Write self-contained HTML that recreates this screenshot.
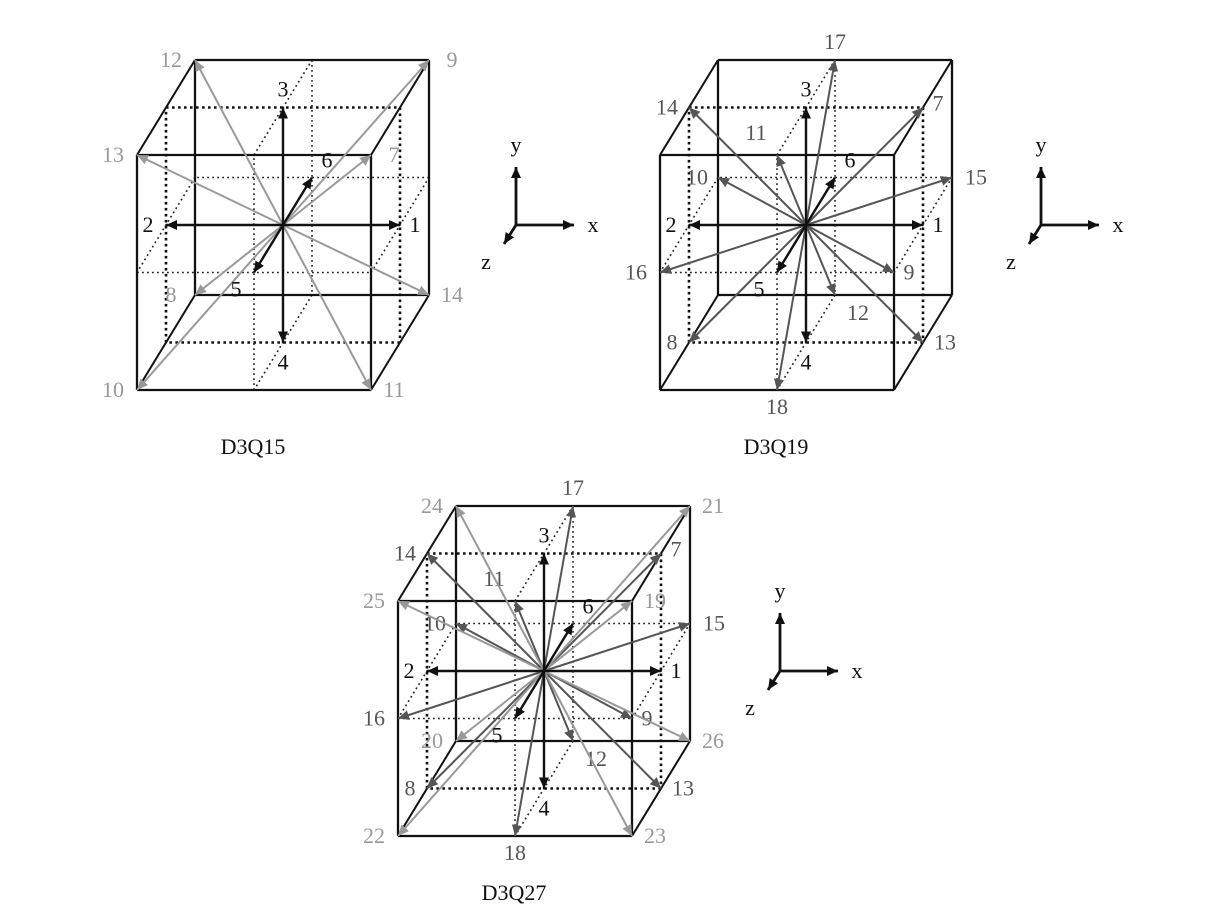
<!DOCTYPE html>
<html><head><meta charset="utf-8"><style>
html,body{margin:0;padding:0;background:#fff;}
svg{display:block;}
text{font-family:"Liberation Serif",serif;font-size:22px;}
</style></head><body>
<svg id="fig" width="1210" height="922" viewBox="0 0 1210 922" xmlns="http://www.w3.org/2000/svg">
<defs>
<marker id="mk-black" markerUnits="userSpaceOnUse" markerWidth="12" markerHeight="10" refX="11" refY="5" orient="auto"><path d="M0,0 L11,5 L0,10 z" fill="#111"/></marker>
<marker id="mk-dark" markerUnits="userSpaceOnUse" markerWidth="12" markerHeight="10" refX="11" refY="5" orient="auto"><path d="M0,0 L11,5 L0,10 z" fill="#555"/></marker>
<marker id="mk-light" markerUnits="userSpaceOnUse" markerWidth="12" markerHeight="10" refX="11" refY="5" orient="auto"><path d="M0,0 L11,5 L0,10 z" fill="#999"/></marker>
</defs>
</svg>
<script>
// lattice velocity directions (x, y, z), z toward viewer
const axisDirs = [[1,0,0],[-1,0,0],[0,1,0],[0,-1,0],[0,0,1],[0,0,-1]];
const axisIds = [1,2,3,4,5,6];
const q15CornerDirs = [[1,1,1],[-1,-1,-1],[1,1,-1],[-1,-1,1],[1,-1,1],[-1,1,-1],[-1,1,1],[1,-1,-1]];
const q15CornerIds = [7,8,9,10,11,12,13,14];
const edgeDirs = [[1,1,0],[-1,-1,0],[1,0,1],[-1,0,-1],[0,1,1],[0,-1,-1],[1,-1,0],[-1,1,0],[1,0,-1],[-1,0,1],[0,1,-1],[0,-1,1]];
const edgeIds = [7,8,9,10,11,12,13,14,15,16,17,18];
const q27CornerDirs = [[1,1,1],[-1,-1,-1],[1,1,-1],[-1,-1,1],[1,-1,1],[-1,1,-1],[-1,1,1],[1,-1,-1]];
const q27CornerIds = [19,20,21,22,23,24,25,26];
const titles = ["D3Q15","D3Q19","D3Q27"];

const NS = "http://www.w3.org/2000/svg";
const svg = document.getElementById('fig');
const UX=117, UY=117.5, ZX=-29, ZY=47.5;
function proj(c, v){ return [c[0]+v[0]*UX+v[2]*ZX, c[1]-v[1]*UY+v[2]*ZY]; }
function mk(tag, attrs, parent){ const e=document.createElementNS(NS,tag); for(const k in attrs) e.setAttribute(k,attrs[k]); (parent||svg).appendChild(e); return e; }
function line(g,a,b,stroke,w,dash){ const l=mk('line',{x1:a[0],y1:a[1],x2:b[0],y2:b[1],stroke:stroke,'stroke-width':w},g); if(dash) l.setAttribute('stroke-dasharray',dash); return l; }

function labelOffset(v){
  const [x,y,z]=v;
  if(x&&y&&z) return [x>0?23:-24,0];
  if(x===1&&y===0&&z===0) return [15,0];
  if(x===-1&&y===0&&z===0) return [-18,0];
  if(y===1&&x===0&&z===0) return [0,-18];
  if(y===-1&&x===0&&z===0) return [0,20];
  if(z===1&&x===0&&y===0) return [-18,17];
  if(z===-1&&x===0&&y===0) return [15,-17];
  if(x===1&&y===1) return [15,-4];
  if(x===-1&&y===1) return [-22,0];
  if(x===-1&&y===-1) return [-17,0];
  if(x===1&&y===-1) return [22,0];
  if(x===1&&z===-1) return [24,0];
  if(x===-1&&z===1) return [-24,0];
  if(x===1&&z===1) return [15,0];
  if(x===-1&&z===-1) return [-21,0];
  if(y===1&&z===1) return [-21,-22];
  if(y===1&&z===-1) return [0,-18];
  if(y===-1&&z===-1) return [23,18];
  if(y===-1&&z===1) return [0,17];
  return [0,0];
}

function drawCube(name, c, groups, title, axisOrigin){
  const g = mk('g',{});
  
  
  const planes = mk('g',{},g);
  
  
  const zp=[[-1,1,0],[1,1,0],[1,-1,0],[-1,-1,0]].map(v=>proj(c,v));
  for(let i=0;i<4;i++) line(planes,zp[i],zp[(i+1)%4],'#111',2.6,'2.6 3.4');
  const yp=[[-1,0,1],[1,0,1],[1,0,-1],[-1,0,-1]].map(v=>proj(c,v));
  for(let i=0;i<4;i++) line(planes,yp[i],yp[(i+1)%4],'#222',1.6,'1.8 3.2');
  const xp=[[0,1,1],[0,1,-1],[0,-1,-1],[0,-1,1]].map(v=>proj(c,v));
  for(let i=0;i<4;i++) line(planes,xp[i],xp[(i+1)%4],'#222',1.6,'1.8 3.2');
  const frame = mk('g',{},g);
  
  
  const corners=[];
  for(const z of [1,-1]) corners.push([[-1,1,z],[1,1,z],[1,-1,z],[-1,-1,z]].map(v=>proj(c,v)));
  for(const f of corners) for(let i=0;i<4;i++) line(frame,f[i],f[(i+1)%4],'#111',2.3);
  for(let i=0;i<4;i++) line(frame,corners[0][i],corners[1][i],'#111',2);
  for(const grp of groups){
    const ag = mk('g',{},g);
    
    
    grp.dirs.forEach((v,i)=>{
      const p=proj(c,v);
      const l=line(ag,c,p,grp.color,grp.w);
      l.setAttribute('marker-end','url(#'+grp.marker+')');
      
      
      const o=labelOffset(v);
      const t=mk('text',{x:p[0]+o[0],y:p[1]+o[1]+7,'text-anchor':'middle',fill:grp.lcolor},ag);
      t.textContent=grp.ids[i];
      
      
    });
  }
  const tt=mk('text',{x:c[0]-30,y:c[1]+229,'text-anchor':'middle',fill:'#111','font-size':'25'},g);
  tt.textContent=title;
  
  
  const ax=mk('g',{},svg);
  
  
  const o=axisOrigin;
  line(ax,o,[o[0],o[1]-58],'#111',2.8).setAttribute('marker-end','url(#mk-black)');
  line(ax,o,[o[0]+58,o[1]],'#111',2.8).setAttribute('marker-end','url(#mk-black)');
  line(ax,o,[o[0]-12,o[1]+19],'#111',2.8).setAttribute('marker-end','url(#mk-black)');
  const lab=[['y',o[0],o[1]-73],['x',o[0]+77,o[1]+7],['z',o[0]-30,o[1]+44]];
  for(const [s,x,y] of lab){ const t=mk('text',{x:x,y:y,'text-anchor':'middle',fill:'#111'},ax); t.textContent=s;   }
}

const axisGroup={name:'axis-vectors',dirs:axisDirs,ids:axisIds,color:'#111',lcolor:'#111',marker:'mk-black',w:2.4};
drawCube('cube-d3q15',[283,225],[
  {name:'corner-vectors',dirs:q15CornerDirs,ids:q15CornerIds,color:'#999',lcolor:'#999',marker:'mk-light',w:2},
  axisGroup],titles[0],[516,225]);
drawCube('cube-d3q19',[806,225],[
  {name:'edge-vectors',dirs:edgeDirs,ids:edgeIds,color:'#555',lcolor:'#555',marker:'mk-dark',w:2},
  axisGroup],titles[1],[1041,225]);
drawCube('cube-d3q27',[544,671],[
  {name:'edge-vectors',dirs:edgeDirs,ids:edgeIds,color:'#555',lcolor:'#555',marker:'mk-dark',w:2},
  {name:'corner-vectors',dirs:q27CornerDirs,ids:q27CornerIds,color:'#999',lcolor:'#999',marker:'mk-light',w:2},
  axisGroup],titles[2],[780,671]);
</script>
</body></html>
